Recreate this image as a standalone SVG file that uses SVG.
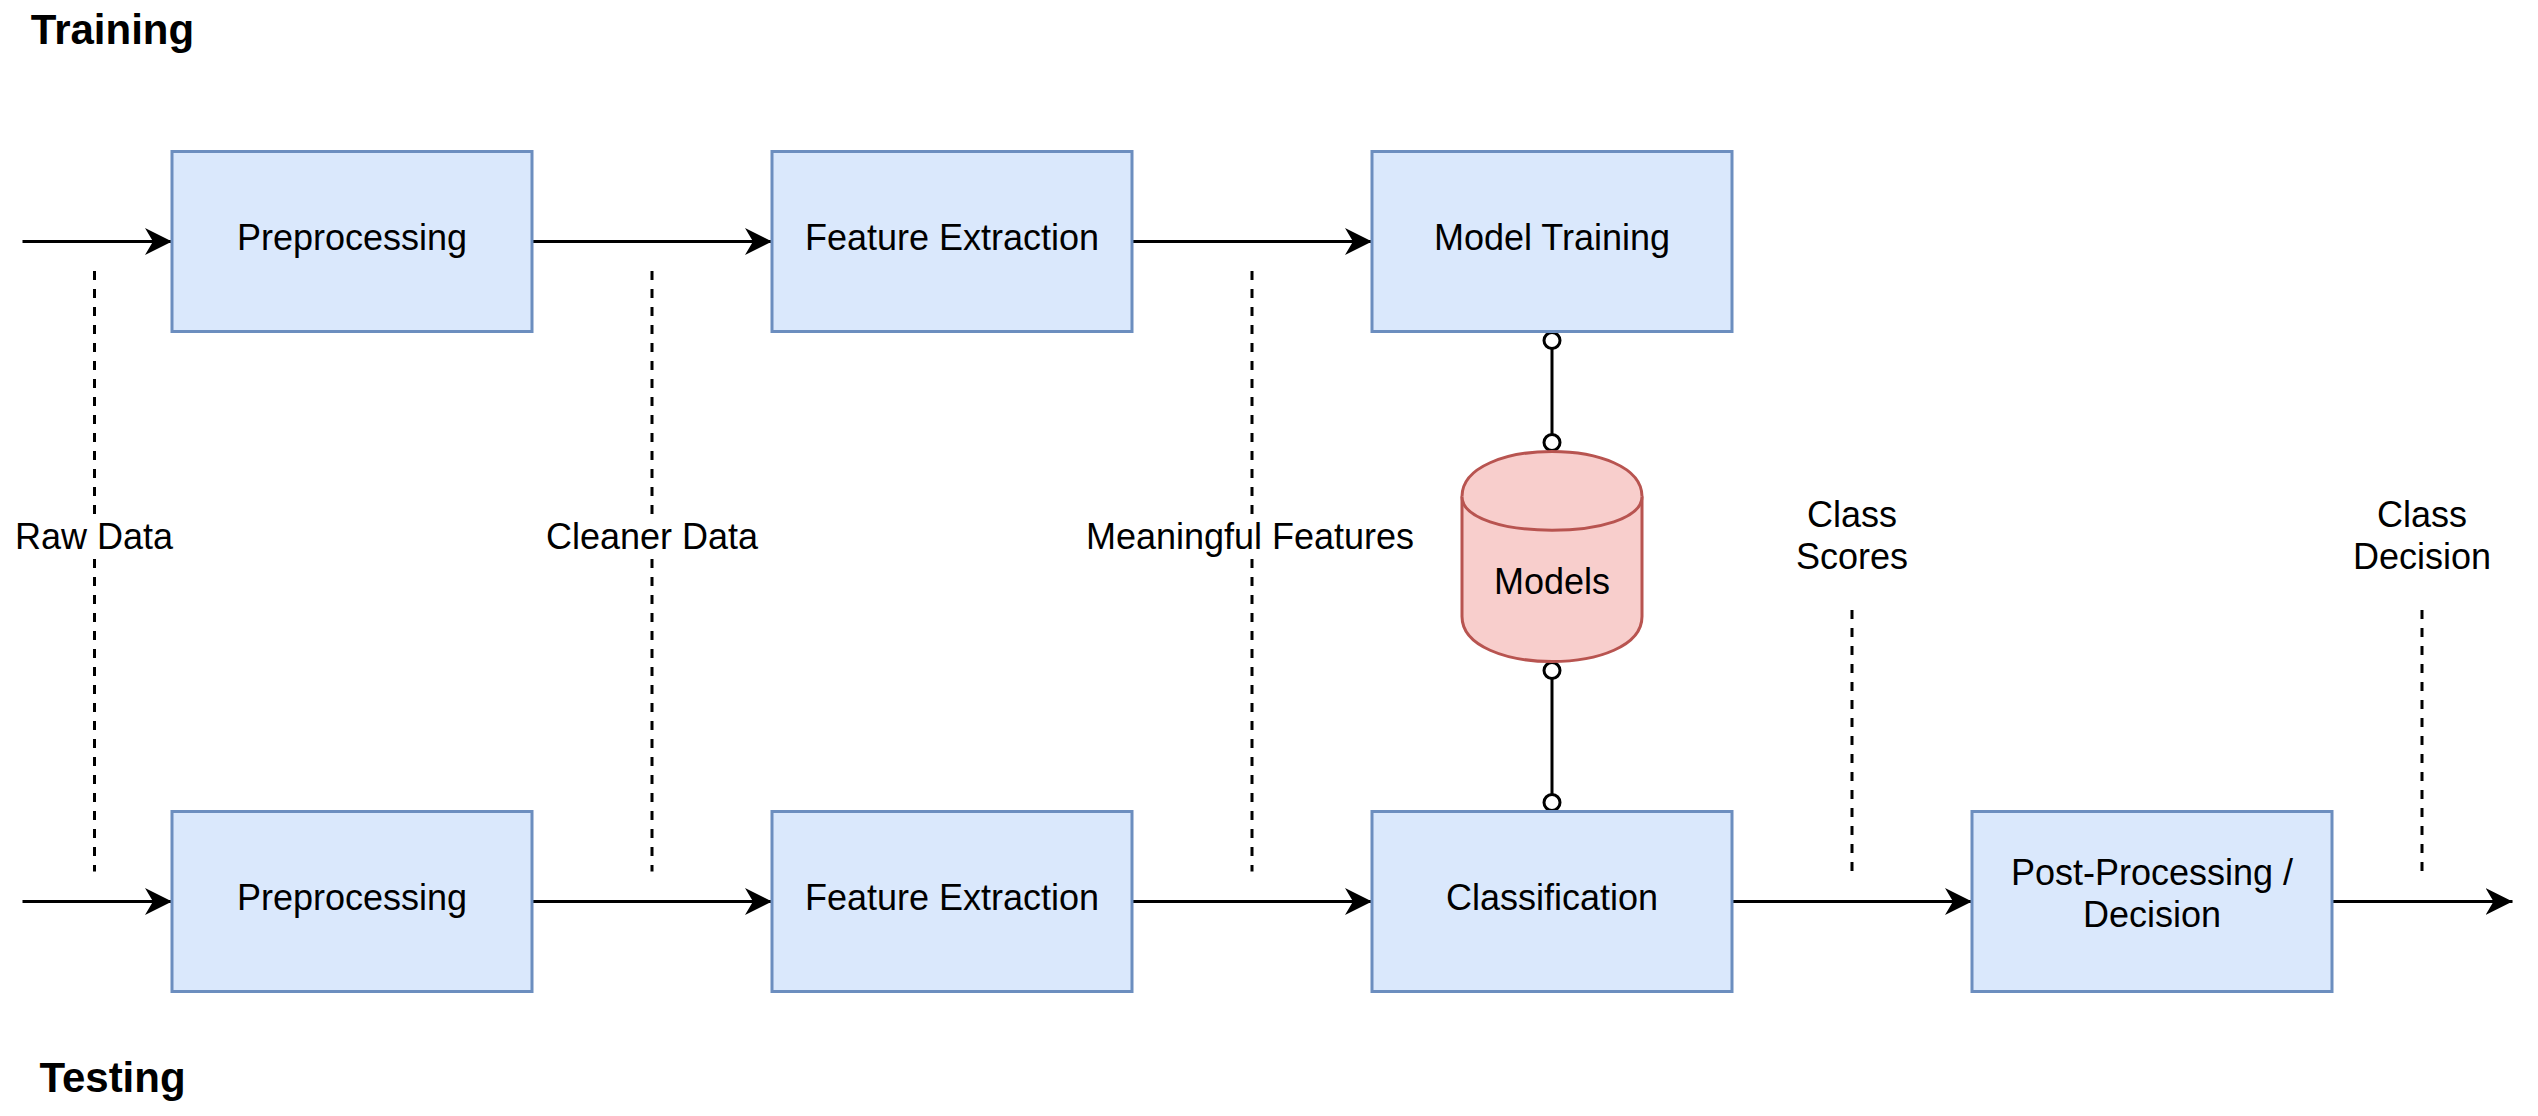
<svg xmlns="http://www.w3.org/2000/svg" width="2538" height="1116" viewBox="0 0 2538 1116">
<style>
  text { font-family: "Liberation Sans", Arial, Helvetica, sans-serif; fill: #000; }
  .lbl { font-size: 36px; text-anchor: middle; }
  .title { font-size: 42px; font-weight: bold; text-anchor: middle; }
  .box { fill: #dae8fc; stroke: #6c8ebf; stroke-width: 3; }
  .db { fill: #f8cecc; stroke: #b85450; stroke-width: 3; }
  .flow { stroke: #000; stroke-width: 3; fill: none; marker-end: url(#arrow); }
  .dash { stroke: #000; stroke-width: 3; fill: none; stroke-dasharray: 9 9; }
  .link { stroke: #000; stroke-width: 3; fill: none; }
  .end { fill: #fff; stroke: #000; stroke-width: 3; }
  .bg { fill: #fff; }
</style>
<defs>
  <marker id="arrow" markerUnits="userSpaceOnUse" markerWidth="28" markerHeight="28" refX="27" refY="13.5" orient="auto">
    <path d="M0,0 L27,13.5 L0,27 L8,13.5 Z" fill="#000"/>
  </marker>
</defs>
<rect width="2538" height="1116" fill="#fff"/>

<g id="title-training"><text class="title" x="112.5" y="43.5">Training</text></g>
<g id="title-testing"><text class="title" x="112.5" y="1091.5">Testing</text></g>

<g id="connectors">
  <!-- training row -->
  <line class="flow" x1="22.5" y1="241.5" x2="172" y2="241.5"/>
  <line class="flow" x1="532" y1="241.5" x2="772" y2="241.5"/>
  <line class="flow" x1="1132" y1="241.5" x2="1372" y2="241.5"/>
  <!-- testing row -->
  <line class="flow" x1="22.5" y1="901.5" x2="172" y2="901.5"/>
  <line class="flow" x1="532" y1="901.5" x2="772" y2="901.5"/>
  <line class="flow" x1="1132" y1="901.5" x2="1372" y2="901.5"/>
  <line class="flow" x1="1732" y1="901.5" x2="1972" y2="901.5"/>
  <line class="flow" x1="2332" y1="901.5" x2="2512.5" y2="901.5"/>
  <!-- model links -->
  <line class="link" x1="1552" y1="340.5" x2="1552" y2="442.5"/>
  <circle class="end" cx="1552" cy="340.5" r="8"/>
  <circle class="end" cx="1552" cy="442.5" r="8"/>
  <line class="link" x1="1552" y1="670.5" x2="1552" y2="802.5"/>
  <circle class="end" cx="1552" cy="670.5" r="8"/>
  <circle class="end" cx="1552" cy="802.5" r="8"/>
  <!-- data annotations -->
  <g id="raw-data">
    <line class="dash" x1="94.5" y1="271" x2="94.5" y2="871.5"/>
    <rect class="bg" x="12" y="514" width="165" height="44"/>
    <text class="lbl" x="94" y="549">Raw Data</text>
  </g>
  <g id="cleaner-data">
    <line class="dash" x1="652" y1="271" x2="652" y2="871.5"/>
    <rect class="bg" x="542" y="514" width="220" height="44"/>
    <text class="lbl" x="652" y="549">Cleaner Data</text>
  </g>
  <g id="meaningful-features">
    <line class="dash" x1="1252" y1="271" x2="1252" y2="871.5"/>
    <rect class="bg" x="1084" y="514" width="334" height="44"/>
    <text class="lbl" x="1250" y="549">Meaningful Features</text>
  </g>
  <g id="class-scores">
    <line class="dash" x1="1852" y1="610" x2="1852" y2="871.5"/>
    <text class="lbl" x="1852" y="527">Class</text>
    <text class="lbl" x="1852" y="569">Scores</text>
  </g>
  <g id="class-decision">
    <line class="dash" x1="2422" y1="610" x2="2422" y2="871.5"/>
    <text class="lbl" x="2422" y="527">Class</text>
    <text class="lbl" x="2422" y="569">Decision</text>
  </g>
</g>

<g id="train-preprocessing">
  <rect class="box" x="172" y="151.5" width="360" height="180"/>
  <text class="lbl" x="352" y="250">Preprocessing</text>
</g>
<g id="train-feature-extraction">
  <rect class="box" x="772" y="151.5" width="360" height="180"/>
  <text class="lbl" x="952" y="250">Feature Extraction</text>
</g>
<g id="model-training">
  <rect class="box" x="1372" y="151.5" width="360" height="180"/>
  <text class="lbl" x="1552" y="250">Model Training</text>
</g>
<g id="models">
  <path class="db" d="M1462,496.5 C1462,436.5 1642,436.5 1642,496.5 L1642,616.5 C1642,676.5 1462,676.5 1462,616.5 Z"/>
  <path class="db" fill="none" d="M1462,496.5 C1462,541.5 1642,541.5 1642,496.5"/>
  <text class="lbl" x="1552" y="594">Models</text>
</g>
<g id="test-preprocessing">
  <rect class="box" x="172" y="811.5" width="360" height="180"/>
  <text class="lbl" x="352" y="910">Preprocessing</text>
</g>
<g id="test-feature-extraction">
  <rect class="box" x="772" y="811.5" width="360" height="180"/>
  <text class="lbl" x="952" y="910">Feature Extraction</text>
</g>
<g id="classification">
  <rect class="box" x="1372" y="811.5" width="360" height="180"/>
  <text class="lbl" x="1552" y="910">Classification</text>
</g>
<g id="post-processing">
  <rect class="box" x="1972" y="811.5" width="360" height="180"/>
  <text class="lbl" x="2152" y="885">Post-Processing /</text>
  <text class="lbl" x="2152" y="927">Decision</text>
</g>
</svg>
